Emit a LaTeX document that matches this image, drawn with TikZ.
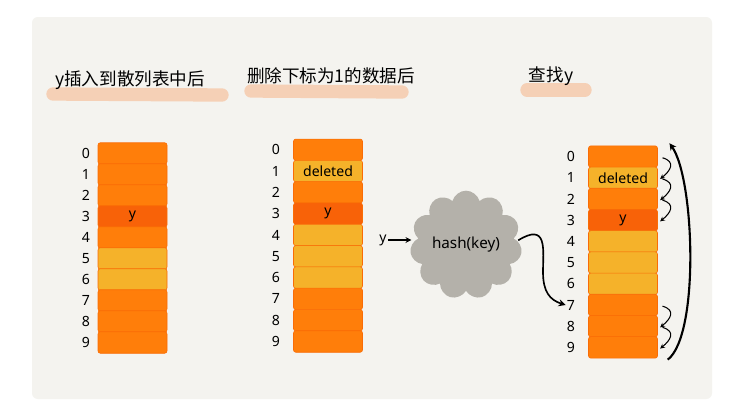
\documentclass[tikz,border=0pt]{standalone}
\usepackage{fontspec}
\setmainfont{Noto Sans}
\newfontfamily\cjkfont{Noto Sans CJK SC}
\usetikzlibrary{
  arrows.meta,
  positioning,
  shapes.symbols
}
\definecolor{panelgray}{RGB}{244,243,239}
\definecolor{slotorange}{RGB}{255,126,10}
\definecolor{slotdark}{RGB}{248,98,8}
\definecolor{slotyellow}{RGB}{245,178,42}
\definecolor{slotedge}{RGB}{250,108,6}
\definecolor{markerpeach}{RGB}{246,200,168}
\definecolor{cloudgray}{RGB}{180,177,170}

\begin{document}
\begin{tikzpicture}[
  x=0.03cm, y=-0.03cm,
  slot/.style={
    rectangle, rounded corners=2pt, minimum width=2.07cm, minimum height=0.645cm,
    inner sep=0pt, draw=slotedge, line width=0.5pt, font=\fontsize{12}{14}\selectfont
  },
  idx/.style={font=\fontsize{12}{14}\selectfont, inner sep=1pt},
  title/.style={font=\cjkfont\fontsize{15}{17}\selectfont, inner sep=0pt},
  marker/.style={line width=0.4cm, markerpeach, line cap=round, opacity=0.8},
  hop/.style={-{Stealth[length=4pt,width=4pt]}, line width=0.9pt},
  arr/.style={-{Stealth[length=6pt,width=6pt]}, line width=1.4pt}
]
  \useasboundingbox (0,0) rectangle (734,415);
  \fill[white] (0,0) rectangle (734,415);
  \fill[panelgray, rounded corners=5pt] (32,17) rectangle (712,399);

  % titles with highlighter strokes
  \draw[marker] (53,94) -- (222,95);
  \draw[marker] (251,91) -- (402,92);
  \draw[marker] (527,90) -- (585,90);
  \node[title] (t1) at (130,80) {y插入到散列表中后};
  \node[title] (t2) at (331,76) {删除下标为1的数据后};
  \node[title] (t3) at (551,76) {查找y};

  % table after insert
  \foreach \i/\c/\t in {0/slotorange/,1/slotorange/,2/slotorange/,3/slotdark/y,
      4/slotorange/,5/slotyellow/,6/slotyellow/,7/slotorange/,8/slotorange/,9/slotorange/} {
    \node[slot, fill=\c] (a\i) at (132.5,153.5+21*\i) {\t};
    \node[idx] (la\i) at (86,153.5+21*\i) {\i};
  }

  % table after delete
  \foreach \i/\c/\t in {0/slotorange/,1/slotyellow/deleted,2/slotorange/,3/slotdark/y,
      4/slotyellow/,5/slotyellow/,6/slotyellow/,7/slotorange/,8/slotorange/,9/slotorange/} {
    \node[slot, fill=\c] (b\i) at (328,149.8+21.3*\i) {\t};
    \node[idx] (lb\i) at (276,149.8+21.3*\i) {\i};
  }

  % lookup
  \foreach \i/\c/\t in {0/slotorange/,1/slotyellow/deleted,2/slotorange/,3/slotdark/y,
      4/slotyellow/,5/slotyellow/,6/slotyellow/,7/slotorange/,8/slotorange/,9/slotorange/} {
    \node[slot, fill=\c] (c\i) at (623,156.6+21.2*\i) {\t};
    \node[idx] (lc\i) at (571,156.6+21.2*\i) {\i};
  }

  \node[cloud, cloud puffs=11, aspect=1.05, fill=cloudgray, minimum width=2.6cm,
        minimum height=2.5cm, inner sep=0pt, font=\fontsize{13}{15}\selectfont]
        (hash) at (466,245) {hash(key)};
  \node[idx] (key) at (383,240) {y};
  \draw[arr, line width=1pt, -{Stealth[length=5pt,width=5pt]}] (key) -- (hash.west |- key);

  \draw[arr] ([xshift=-2pt,yshift=4pt]hash.east) .. controls (548,222) and (543,250) .. (543,272)
    .. controls (543,292) and (550,300) .. (lc7.west);

  % probing steps
  \draw[hop] ([xshift=4pt,yshift=-1pt]c0.east) .. controls +(14,4) and +(10,-8) .. ([xshift=2pt,yshift=-1pt]c1.east);
  \draw[hop] ([xshift=4pt,yshift=-1pt]c1.east) .. controls +(14,4) and +(10,-8) .. ([xshift=2pt,yshift=-1pt]c2.east);
  \draw[hop] ([xshift=4pt,yshift=-1pt]c2.east) .. controls +(14,4) and +(10,-8) .. ([xshift=2pt,yshift=-1pt]c3.east);
  \draw[hop] ([xshift=4pt,yshift=-1pt]c7.east) .. controls +(14,4) and +(10,-8) .. ([xshift=2pt,yshift=-1pt]c8.east);
  \draw[hop] ([xshift=4pt,yshift=-1pt]c8.east) .. controls +(14,4) and +(10,-8) .. ([xshift=2pt,yshift=-1pt]c9.east);
  \draw[arr, line width=1.8pt] ([xshift=0.3cm,yshift=-1pt]c9.south east)
    .. controls +(32,-25) and +(25,35) .. ([xshift=0.35cm,yshift=2pt]c0.north east);
\end{tikzpicture}
\end{document}
